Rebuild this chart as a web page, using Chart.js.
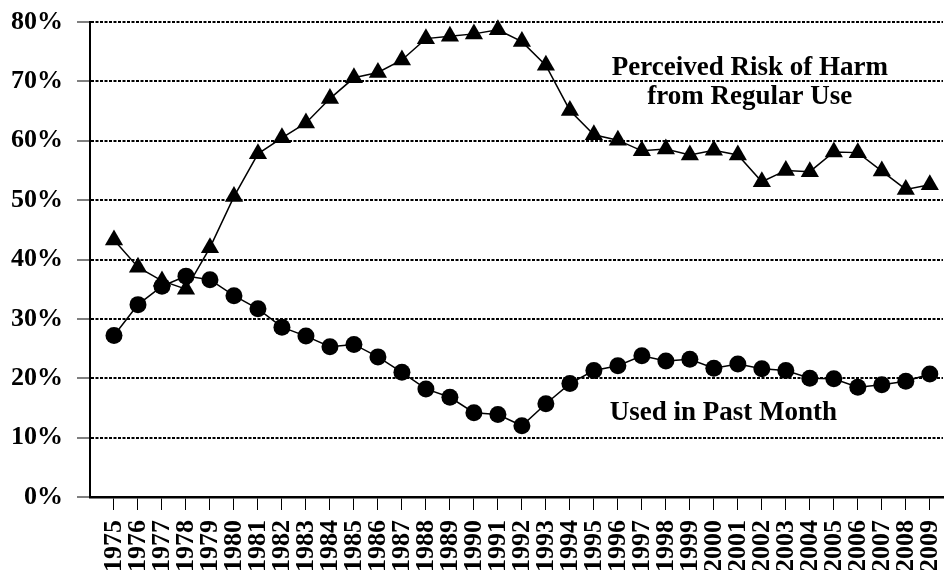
<!DOCTYPE html>
<html>
<head>
<meta charset="utf-8">
<script src="https://cdn.jsdelivr.net/npm/chart.js@4"></script>
<style>
body { margin: 0; background: #fff; }
#wrap { width: 944px; height: 570px; }
</style>
</head>
<body>
<div id="wrap"><canvas id="chart" width="944" height="570"></canvas></div>
<script>
const years = [
    1975, 1976, 1977, 1978, 1979, 1980, 1981, 1982, 1983, 1984,
    1985, 1986, 1987, 1988, 1989, 1990, 1991, 1992, 1993, 1994,
    1995, 1996, 1997, 1998, 1999, 2000, 2001, 2002, 2003, 2004,
    2005, 2006, 2007, 2008, 2009
];

const riskOfHarm = [
    43.3, 38.7, 36.4, 35.0, 42.0, 50.6, 57.8, 60.5, 63.0, 67.1,
    70.6, 71.5, 73.6, 77.2, 77.6, 78.0, 78.7, 76.7, 72.7, 65.1,
    61.0, 60.1, 58.3, 58.6, 57.6, 58.4, 57.6, 53.1, 55.0, 54.8,
    58.1, 58.0, 54.9, 51.8, 52.6
];

const pastMonth = [
    27.2, 32.4, 35.5, 37.2, 36.6, 33.9, 31.7, 28.6, 27.1, 25.3,
    25.7, 23.6, 21.0, 18.2, 16.8, 14.2, 13.9, 12.0, 15.7, 19.1,
    21.3, 22.1, 23.8, 22.9, 23.2, 21.7, 22.4, 21.6, 21.3, 20.0,
    19.9, 18.5, 18.9, 19.5, 20.7
];

const yTicks = [0, 10, 20, 30, 40, 50, 60, 70, 80];

// series captions, placed in data units
const captions = [
    { text: "Perceived Risk of Harm", x: 2001.5, y: 72.2 },
    { text: "from Regular Use", x: 2001.5, y: 67.3 },
    { text: "Used in Past Month", x: 2000.4, y: 14.2 }
];

const serif = "'Liberation Serif', 'Times New Roman', serif";

const captionPlugin = {
    id: "captions",
    afterDatasetsDraw(chart) {
        const ctx = chart.ctx;
        const xs = chart.scales.x;
        const ys = chart.scales.y;
        ctx.save();
        ctx.fillStyle = "#000";
        ctx.font = "bold 27px " + serif;
        ctx.textAlign = "center";
        ctx.textBaseline = "middle";
        captions.forEach(c => {
            ctx.fillText(c.text, xs.getPixelForValue(c.x), ys.getPixelForValue(c.y));
        });
        ctx.restore();
    }
};

const ctx = document.getElementById("chart");

new Chart(ctx, {
    type: "line",
    data: {
        datasets: [
            {
                label: "Perceived Risk of Harm from Regular Use",
                data: years.map((y, i) => ({ x: y, y: riskOfHarm[i] })),
                borderColor: "#000",
                borderWidth: 1.5,
                backgroundColor: "#000",
                pointStyle: "triangle",
                pointRadius: 10.5,
                pointBackgroundColor: "#000",
                pointBorderWidth: 0,
                tension: 0,
                clip: false
            },
            {
                label: "Used in Past Month",
                data: years.map((y, i) => ({ x: y, y: pastMonth[i] })),
                borderColor: "#000",
                borderWidth: 1.5,
                backgroundColor: "#000",
                pointStyle: "circle",
                pointRadius: 8.5,
                pointBackgroundColor: "#000",
                pointBorderWidth: 0,
                tension: 0,
                clip: false
            }
        ]
    },
    options: {
        responsive: false,
        animation: false,
        layout: {
            autoPadding: false,
            padding: { top: 22, right: 1, left: 0, bottom: 0 }
        },
        plugins: {
            legend: { display: false },
            tooltip: { enabled: false }
        },
        scales: {
            x: {
                type: "linear",
                min: 1974,
                max: 2009.55,
                afterBuildTicks(scale) {
                    scale.ticks = years.map(v => ({ value: v }));
                },
                afterFit(scale) {
                    scale.height = 73;
                    scale.paddingLeft = 0;
                    scale.paddingRight = 0;
                },
                grid: {
                    drawOnChartArea: false,
                    drawTicks: true,
                    tickLength: 13,
                    tickColor: "#000",
                    tickWidth: 1
                },
                border: { display: true, color: "#000", width: 2.5 },
                ticks: {
                    autoSkip: false,
                    minRotation: 90,
                    maxRotation: 90,
                    padding: 10,
                    color: "#000",
                    font: { family: serif, size: 26, weight: "bold" },
                    callback: v => String(v)
                }
            },
            y: {
                min: 0,
                max: 80,
                afterBuildTicks(scale) {
                    scale.ticks = yTicks.map(v => ({ value: v }));
                },
                afterFit(scale) {
                    scale.width = 90;
                    scale.paddingTop = 0;
                    scale.paddingBottom = 0;
                },
                grid: {
                    color: "#000",
                    lineWidth: 2,
                    drawTicks: true,
                    tickLength: 13,
                    tickColor: "#555",
                    tickWidth: 1.5,
                    tickBorderDash: []
                },
                border: { display: true, color: "#000", width: 2, dash: [3, 1.5] },
                ticks: {
                    padding: 14,
                    color: "#000",
                    font: { family: serif, size: 26, weight: "bold" },
                    callback: v => v + "%"
                }
            }
        }
    },
    plugins: [captionPlugin]
});
</script>
</body>
</html>
